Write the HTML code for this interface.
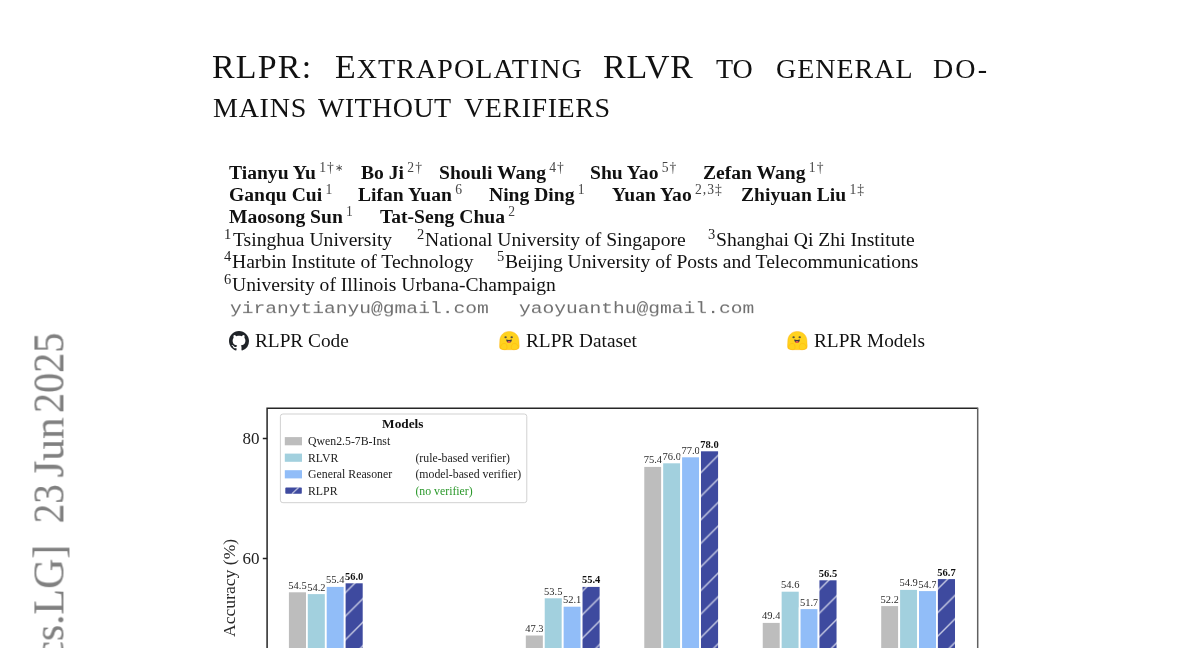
<!DOCTYPE html>
<html><head><meta charset="utf-8"><style>
html,body{margin:0;padding:0;background:#fff;}
body{width:1200px;height:648px;overflow:hidden;position:relative;font-family:"Liberation Serif",serif;color:#111;}
.t{position:absolute;line-height:1;white-space:nowrap;will-change:transform;}
.b{font-weight:bold;}
.m{font-family:"Liberation Mono",monospace;color:#707070;line-height:1;}
.sup{font-weight:normal;vertical-align:7.5px;color:#444;letter-spacing:1.0px;line-height:0;}
.ast{font-size:10px;vertical-align:1.5px;}
.sup2{vertical-align:6.7px;color:#333;line-height:0;}
.ic{position:absolute;}
.st{color:#808080;-webkit-text-stroke:0.12px #808080;}
.ch{position:absolute;left:0;top:0;font-family:"Liberation Serif",serif;will-change:transform;}
</style></head><body>
<div class="t" style="left:212.30px;top:50.21px;font-size:33.9px;letter-spacing:1.24px">RLPR:</div>
<div class="t" style="left:335.00px;top:50.21px;font-size:33.9px;letter-spacing:1.08px">E<span style="font-size:28.0px">XTRAPOLATING</span></div>
<div class="t" style="left:603.20px;top:50.21px;font-size:33.9px;letter-spacing:0.9px">RLVR</div>
<div class="t" style="left:716.00px;top:50.21px;font-size:33.9px;letter-spacing:0.0px"><span style="font-size:28.0px">TO</span></div>
<div class="t" style="left:776.40px;top:50.21px;font-size:33.9px;letter-spacing:0.98px"><span style="font-size:28.0px">GENERAL</span></div>
<div class="t" style="left:932.50px;top:50.21px;font-size:33.9px;letter-spacing:2.1px"><span style="font-size:28.0px">DO-</span></div>
<div class="t" style="left:212.75px;top:93.85px;font-size:28.0px;letter-spacing:0.75px">MAINS</div>
<div class="t" style="left:317.75px;top:93.85px;font-size:28.0px;letter-spacing:0.42px">WITHOUT</div>
<div class="t" style="left:463.50px;top:93.85px;font-size:28.0px;letter-spacing:0.55px">VERIFIERS</div>
<div class="t b" style="left:229px;top:162.59px;font-size:19.6px">Tianyu Yu<span class="sup" style="font-size:13.6px;margin-left:1.2px">&#8202;1&dagger;<span class="ast">&lowast;</span></span></div>
<div class="t b" style="left:360.6px;top:162.59px;font-size:19.6px">Bo Ji<span class="sup" style="font-size:13.6px;margin-left:1.2px">&#8202;2&dagger;</span></div>
<div class="t b" style="left:439.2px;top:162.59px;font-size:19.6px">Shouli Wang<span class="sup" style="font-size:13.6px;margin-left:1.2px">&#8202;4&dagger;</span></div>
<div class="t b" style="left:589.7px;top:162.59px;font-size:19.6px">Shu Yao<span class="sup" style="font-size:13.6px;margin-left:1.2px">&#8202;5&dagger;</span></div>
<div class="t b" style="left:702.8px;top:162.59px;font-size:19.6px">Zefan Wang<span class="sup" style="font-size:13.6px;margin-left:1.2px">&#8202;1&dagger;</span></div>
<div class="t b" style="left:229px;top:184.59px;font-size:19.6px">Ganqu Cui<span class="sup" style="font-size:13.6px;margin-left:1.2px">&#8202;1</span></div>
<div class="t b" style="left:358.4px;top:184.59px;font-size:19.6px">Lifan Yuan<span class="sup" style="font-size:13.6px;margin-left:1.2px">&#8202;6</span></div>
<div class="t b" style="left:489px;top:184.59px;font-size:19.6px">Ning Ding<span class="sup" style="font-size:13.6px;margin-left:1.2px">&#8202;1</span></div>
<div class="t b" style="left:612.1px;top:184.59px;font-size:19.6px">Yuan Yao<span class="sup" style="font-size:13.6px;margin-left:1.2px">&#8202;2,3&Dagger;</span></div>
<div class="t b" style="left:740.7px;top:184.59px;font-size:19.6px">Zhiyuan Liu<span class="sup" style="font-size:13.6px;margin-left:1.2px">&#8202;1&Dagger;</span></div>
<div class="t b" style="left:229px;top:206.59px;font-size:19.6px">Maosong Sun<span class="sup" style="font-size:13.6px;margin-left:1.2px">&#8202;1</span></div>
<div class="t b" style="left:380px;top:206.59px;font-size:19.6px">Tat-Seng Chua<span class="sup" style="font-size:13.6px;margin-left:1.2px">&#8202;2</span></div>
<div class="t" style="left:224.00px;top:227.06px;font-size:14.5px;color:#222">1</div>
<div class="t" style="left:232.80px;top:229.89px;font-size:19.6px">Tsinghua University</div>
<div class="t" style="left:417.30px;top:227.06px;font-size:14.5px;color:#222">2</div>
<div class="t" style="left:424.50px;top:229.89px;font-size:19.6px">National University of Singapore</div>
<div class="t" style="left:708.00px;top:227.06px;font-size:14.5px;color:#222">3</div>
<div class="t" style="left:716.20px;top:229.89px;font-size:19.6px">Shanghai Qi Zhi Institute</div>
<div class="t" style="left:223.80px;top:249.06px;font-size:14.5px;color:#222">4</div>
<div class="t" style="left:231.80px;top:251.89px;font-size:19.6px">Harbin Institute of Technology</div>
<div class="t" style="left:496.80px;top:249.06px;font-size:14.5px;color:#222">5</div>
<div class="t" style="left:505.00px;top:251.89px;font-size:19.6px">Beijing University of Posts and Telecommunications</div>
<div class="t" style="left:224.20px;top:272.06px;font-size:14.5px;color:#222">6</div>
<div class="t" style="left:232.20px;top:274.88px;font-size:19.6px">University of Illinois Urbana-Champaign</div>
<div class="t m" style="left:229.6px;top:299.17px;font-size:19.6px;transform-origin:0 15px;transform:scaleY(0.8)">yiranytianyu@gmail.com</div>
<div class="t m" style="left:518.8px;top:299.17px;font-size:19.6px;transform-origin:0 15px;transform:scaleY(0.8)">yaoyuanthu@gmail.com</div>
<svg class="ic" style="left:229px;top:330.7px" width="20" height="20" viewBox="0 0 16 16"><path fill="#1f2328" d="M8 0C3.58 0 0 3.58 0 8c0 3.54 2.29 6.53 5.47 7.59.4.07.55-.17.55-.38 0-.19-.01-.82-.01-1.49-2.01.37-2.53-.49-2.69-.94-.09-.23-.48-.94-.82-1.13-.28-.15-.68-.52-.01-.53.63-.01 1.08.58 1.23.82.72 1.21 1.87.87 2.33.66.07-.52.28-.87.51-1.07-1.78-.2-3.64-.89-3.64-3.95 0-.87.31-1.59.82-2.15-.08-.2-.36-1.02.08-2.12 0 0 .67-.21 2.2.82.64-.18 1.32-.27 2-.27.68 0 1.36.09 2 .27 1.53-1.04 2.2-.82 2.2-.82.44 1.1.16 1.92.08 2.12.51.56.82 1.27.82 2.15 0 3.07-1.87 3.75-3.65 3.95.29.25.54.73.54 1.48 0 1.07-.01 1.93-.01 2.2 0 .21.15.46.55.38A8.013 8.013 0 0016 8c0-4.42-3.58-8-8-8z"/></svg>
<svg class="ic" style="left:498.7px;top:330.5px" width="21" height="20" viewBox="0 0 21 20">
<path d="M10.3 0.4C15.8 0.4 19.9 4.4 19.9 9.8C19.9 12.8 20.6 15.8 19.8 17.2C19 18.6 16.4 18.7 10.3 18.7C4.2 18.7 1.6 18.6 0.9 17.2C0.2 15.8 0.8 12.8 0.8 9.8C0.8 4.4 4.8 0.4 10.3 0.4Z" fill="#FFD21E" stroke="#FFAC03" stroke-width=".7" stroke-opacity=".55"/>
<ellipse cx="6.6" cy="6.2" rx="1.2" ry=".95" fill="#3A3B45" opacity=".85"/><ellipse cx="12.7" cy="6.2" rx="1.2" ry=".95" fill="#3A3B45" opacity=".85"/>
<path d="M7.2 8.6Q10 9.4 12.9 8.6Q12.6 11.9 10 11.9Q7.5 11.9 7.2 8.6Z" fill="#3A3B45"/><ellipse cx="10" cy="10.9" rx="1.7" ry="1" fill="#EF5E4E"/>
<path d="M1.6 15.5C2.2 12.8 4.8 12 6.4 12.6C7.8 13.2 8.2 15.5 8 17.2C7.9 18.3 6.8 18.7 5.5 18.7C3 18.7 1.2 17.6 1.6 15.5Z" fill="#FFD21E" stroke="#FFAC03" stroke-width=".6" stroke-opacity=".6"/>
<path d="M19.2 15.5C18.6 12.8 16 12 14.2 12.6C12.6 13.2 12 15.5 12.3 17.2C12.5 18.3 13.8 18.7 15.2 18.7C17.8 18.7 19.6 17.6 19.2 15.5Z" fill="#FFD21E" stroke="#FFAC03" stroke-width=".6" stroke-opacity=".6"/>
</svg>
<svg class="ic" style="left:786.9px;top:330.5px" width="21" height="20" viewBox="0 0 21 20">
<path d="M10.3 0.4C15.8 0.4 19.9 4.4 19.9 9.8C19.9 12.8 20.6 15.8 19.8 17.2C19 18.6 16.4 18.7 10.3 18.7C4.2 18.7 1.6 18.6 0.9 17.2C0.2 15.8 0.8 12.8 0.8 9.8C0.8 4.4 4.8 0.4 10.3 0.4Z" fill="#FFD21E" stroke="#FFAC03" stroke-width=".7" stroke-opacity=".55"/>
<ellipse cx="6.6" cy="6.2" rx="1.2" ry=".95" fill="#3A3B45" opacity=".85"/><ellipse cx="12.7" cy="6.2" rx="1.2" ry=".95" fill="#3A3B45" opacity=".85"/>
<path d="M7.2 8.6Q10 9.4 12.9 8.6Q12.6 11.9 10 11.9Q7.5 11.9 7.2 8.6Z" fill="#3A3B45"/><ellipse cx="10" cy="10.9" rx="1.7" ry="1" fill="#EF5E4E"/>
<path d="M1.6 15.5C2.2 12.8 4.8 12 6.4 12.6C7.8 13.2 8.2 15.5 8 17.2C7.9 18.3 6.8 18.7 5.5 18.7C3 18.7 1.2 17.6 1.6 15.5Z" fill="#FFD21E" stroke="#FFAC03" stroke-width=".6" stroke-opacity=".6"/>
<path d="M19.2 15.5C18.6 12.8 16 12 14.2 12.6C12.6 13.2 12 15.5 12.3 17.2C12.5 18.3 13.8 18.7 15.2 18.7C17.8 18.7 19.6 17.6 19.2 15.5Z" fill="#FFD21E" stroke="#FFAC03" stroke-width=".6" stroke-opacity=".6"/>
</svg>
<div class="t" style="left:255.00px;top:331.14px;font-size:19.3px;">RLPR Code</div>
<div class="t" style="left:525.70px;top:331.14px;font-size:19.3px;">RLPR Dataset</div>
<div class="t" style="left:814.00px;top:331.14px;font-size:19.3px;">RLPR Models</div>
<div class="t st" style="left:0;top:0;font-size:44px;transform-origin:0 0;transform:translate(27.45px,413.03px) rotate(-90deg) scaleX(0.913)">2025</div>
<div class="t st" style="left:0;top:0;font-size:44px;transform-origin:0 0;transform:translate(27.45px,477.48px) rotate(-90deg) scaleX(0.985)">Jun</div>
<div class="t st" style="left:0;top:0;font-size:44px;transform-origin:0 0;transform:translate(27.45px,523.25px) rotate(-90deg) scaleX(0.885)">23</div>
<div class="t st" style="left:0;top:0;font-size:44px;transform-origin:0 0;transform:translate(27.45px,673.65px) rotate(-90deg) scaleX(0.95)">[cs.LG]</div>
<div class="t st" style="left:0;top:0;font-size:44px;transform-origin:0 0;transform:translate(27.45px,1080.00px) rotate(-90deg) scaleX(0.95)">arXiv:2506.18254v1</div>
<svg class="ch" width="1200" height="648" viewBox="0 0 1200 648">
<defs><pattern id="h" patternUnits="userSpaceOnUse" width="23.55" height="23.55" x="19.6" y="0"><path d="M0 23.55L23.55 0M-11.775 11.775L11.775 -11.775M11.775 35.325L35.325 11.775" stroke="#fff" stroke-opacity=".7" stroke-width="1.4"/></pattern></defs>
<rect x="288.00" y="591.40" width="18.90" height="108.60" fill="#bdbdbd"/>
<rect x="288.00" y="591.40" width="18.90" height="108.60" fill="none" stroke="#fff" stroke-width="1.8"/>
<text x="297.45" y="588.80" font-size="10.5" font-weight="normal" fill="#2a2a2a" text-anchor="middle">54.5</text>
<rect x="306.90" y="593.20" width="18.90" height="106.80" fill="#a2d0de"/>
<rect x="306.90" y="593.20" width="18.90" height="106.80" fill="none" stroke="#fff" stroke-width="1.8"/>
<text x="316.35" y="590.60" font-size="10.5" font-weight="normal" fill="#2a2a2a" text-anchor="middle">54.2</text>
<rect x="325.80" y="586.00" width="18.90" height="114.00" fill="#91bdf8"/>
<rect x="325.80" y="586.00" width="18.90" height="114.00" fill="none" stroke="#fff" stroke-width="1.8"/>
<text x="335.25" y="583.40" font-size="10.5" font-weight="normal" fill="#2a2a2a" text-anchor="middle">55.4</text>
<rect x="344.70" y="582.40" width="18.90" height="117.60" fill="#3e4a9f"/>
<rect x="344.70" y="582.40" width="18.90" height="117.60" fill="url(#h)"/>
<rect x="344.70" y="582.40" width="18.90" height="117.60" fill="none" stroke="#fff" stroke-width="1.8"/>
<text x="354.15" y="579.80" font-size="10.5" font-weight="bold" fill="#111" text-anchor="middle">56.0</text>
<rect x="406.46" y="678.40" width="18.90" height="21.60" fill="#bdbdbd"/>
<rect x="406.46" y="678.40" width="18.90" height="21.60" fill="none" stroke="#fff" stroke-width="1.8"/>
<rect x="425.36" y="672.40" width="18.90" height="27.60" fill="#a2d0de"/>
<rect x="425.36" y="672.40" width="18.90" height="27.60" fill="none" stroke="#fff" stroke-width="1.8"/>
<rect x="444.26" y="666.40" width="18.90" height="33.60" fill="#91bdf8"/>
<rect x="444.26" y="666.40" width="18.90" height="33.60" fill="none" stroke="#fff" stroke-width="1.8"/>
<rect x="463.16" y="660.40" width="18.90" height="39.60" fill="#3e4a9f"/>
<rect x="463.16" y="660.40" width="18.90" height="39.60" fill="url(#h)"/>
<rect x="463.16" y="660.40" width="18.90" height="39.60" fill="none" stroke="#fff" stroke-width="1.8"/>
<rect x="524.92" y="634.60" width="18.90" height="65.40" fill="#bdbdbd"/>
<rect x="524.92" y="634.60" width="18.90" height="65.40" fill="none" stroke="#fff" stroke-width="1.8"/>
<text x="534.37" y="632.00" font-size="10.5" font-weight="normal" fill="#2a2a2a" text-anchor="middle">47.3</text>
<rect x="543.82" y="597.40" width="18.90" height="102.60" fill="#a2d0de"/>
<rect x="543.82" y="597.40" width="18.90" height="102.60" fill="none" stroke="#fff" stroke-width="1.8"/>
<text x="553.27" y="594.80" font-size="10.5" font-weight="normal" fill="#2a2a2a" text-anchor="middle">53.5</text>
<rect x="562.72" y="605.80" width="18.90" height="94.20" fill="#91bdf8"/>
<rect x="562.72" y="605.80" width="18.90" height="94.20" fill="none" stroke="#fff" stroke-width="1.8"/>
<text x="572.17" y="603.20" font-size="10.5" font-weight="normal" fill="#2a2a2a" text-anchor="middle">52.1</text>
<rect x="581.62" y="586.00" width="18.90" height="114.00" fill="#3e4a9f"/>
<rect x="581.62" y="586.00" width="18.90" height="114.00" fill="url(#h)"/>
<rect x="581.62" y="586.00" width="18.90" height="114.00" fill="none" stroke="#fff" stroke-width="1.8"/>
<text x="591.07" y="583.40" font-size="10.5" font-weight="bold" fill="#111" text-anchor="middle">55.4</text>
<rect x="643.38" y="466.00" width="18.90" height="234.00" fill="#bdbdbd"/>
<rect x="643.38" y="466.00" width="18.90" height="234.00" fill="none" stroke="#fff" stroke-width="1.8"/>
<text x="652.83" y="463.40" font-size="10.5" font-weight="normal" fill="#2a2a2a" text-anchor="middle">75.4</text>
<rect x="662.28" y="462.40" width="18.90" height="237.60" fill="#a2d0de"/>
<rect x="662.28" y="462.40" width="18.90" height="237.60" fill="none" stroke="#fff" stroke-width="1.8"/>
<text x="671.73" y="459.80" font-size="10.5" font-weight="normal" fill="#2a2a2a" text-anchor="middle">76.0</text>
<rect x="681.18" y="456.40" width="18.90" height="243.60" fill="#91bdf8"/>
<rect x="681.18" y="456.40" width="18.90" height="243.60" fill="none" stroke="#fff" stroke-width="1.8"/>
<text x="690.63" y="453.80" font-size="10.5" font-weight="normal" fill="#2a2a2a" text-anchor="middle">77.0</text>
<rect x="700.08" y="450.40" width="18.90" height="249.60" fill="#3e4a9f"/>
<rect x="700.08" y="450.40" width="18.90" height="249.60" fill="url(#h)"/>
<rect x="700.08" y="450.40" width="18.90" height="249.60" fill="none" stroke="#fff" stroke-width="1.8"/>
<text x="709.53" y="447.80" font-size="10.5" font-weight="bold" fill="#111" text-anchor="middle">78.0</text>
<rect x="761.84" y="622.00" width="18.90" height="78.00" fill="#bdbdbd"/>
<rect x="761.84" y="622.00" width="18.90" height="78.00" fill="none" stroke="#fff" stroke-width="1.8"/>
<text x="771.29" y="619.40" font-size="10.5" font-weight="normal" fill="#2a2a2a" text-anchor="middle">49.4</text>
<rect x="780.74" y="590.80" width="18.90" height="109.20" fill="#a2d0de"/>
<rect x="780.74" y="590.80" width="18.90" height="109.20" fill="none" stroke="#fff" stroke-width="1.8"/>
<text x="790.19" y="588.20" font-size="10.5" font-weight="normal" fill="#2a2a2a" text-anchor="middle">54.6</text>
<rect x="799.64" y="608.20" width="18.90" height="91.80" fill="#91bdf8"/>
<rect x="799.64" y="608.20" width="18.90" height="91.80" fill="none" stroke="#fff" stroke-width="1.8"/>
<text x="809.09" y="605.60" font-size="10.5" font-weight="normal" fill="#2a2a2a" text-anchor="middle">51.7</text>
<rect x="818.54" y="579.40" width="18.90" height="120.60" fill="#3e4a9f"/>
<rect x="818.54" y="579.40" width="18.90" height="120.60" fill="url(#h)"/>
<rect x="818.54" y="579.40" width="18.90" height="120.60" fill="none" stroke="#fff" stroke-width="1.8"/>
<text x="827.99" y="576.80" font-size="10.5" font-weight="bold" fill="#111" text-anchor="middle">56.5</text>
<rect x="880.30" y="605.20" width="18.90" height="94.80" fill="#bdbdbd"/>
<rect x="880.30" y="605.20" width="18.90" height="94.80" fill="none" stroke="#fff" stroke-width="1.8"/>
<text x="889.75" y="602.60" font-size="10.5" font-weight="normal" fill="#2a2a2a" text-anchor="middle">52.2</text>
<rect x="899.20" y="589.00" width="18.90" height="111.00" fill="#a2d0de"/>
<rect x="899.20" y="589.00" width="18.90" height="111.00" fill="none" stroke="#fff" stroke-width="1.8"/>
<text x="908.65" y="586.40" font-size="10.5" font-weight="normal" fill="#2a2a2a" text-anchor="middle">54.9</text>
<rect x="918.10" y="590.20" width="18.90" height="109.80" fill="#91bdf8"/>
<rect x="918.10" y="590.20" width="18.90" height="109.80" fill="none" stroke="#fff" stroke-width="1.8"/>
<text x="927.55" y="587.60" font-size="10.5" font-weight="normal" fill="#2a2a2a" text-anchor="middle">54.7</text>
<rect x="937.00" y="578.20" width="18.90" height="121.80" fill="#3e4a9f"/>
<rect x="937.00" y="578.20" width="18.90" height="121.80" fill="url(#h)"/>
<rect x="937.00" y="578.20" width="18.90" height="121.80" fill="none" stroke="#fff" stroke-width="1.8"/>
<text x="946.45" y="575.60" font-size="10.5" font-weight="bold" fill="#111" text-anchor="middle">56.7</text>
<path d="M267.1 648V408.3H977.7" fill="none" stroke="#262626" stroke-width="1.5"/>
<path d="M977.7 407.6V648" fill="none" stroke="#606060" stroke-width="1.5"/>
<path d="M262.8 438.5H267.2M262.8 558.5H267.2" stroke="#222" stroke-width="1.3"/>
<text x="259.6" y="444.2" font-size="17" fill="#222" text-anchor="end">80</text>
<text x="259.6" y="564.2" font-size="17" fill="#222" text-anchor="end">60</text>
<text transform="translate(235.0 587.9) rotate(-90)" font-size="17.6" fill="#2a2a2a" text-anchor="middle">Accuracy (%)</text>
<rect x="280.4" y="414" width="246.4" height="88.7" rx="2.5" fill="#fff" fill-opacity=".8" stroke="#cccccc" stroke-width=".9"/>
<text x="402.8" y="428.2" font-size="13.3" font-weight="bold" fill="#111" text-anchor="middle">Models</text>
<rect x="284.8" y="437.10" width="17.2" height="8.2" fill="#bdbdbd"/>
<text x="308" y="445.3" font-size="11.8" fill="#222">Qwen2.5-7B-Inst</text>
<rect x="284.8" y="453.60" width="17.2" height="8.2" fill="#a2d0de"/>
<text x="308" y="461.8" font-size="11.8" fill="#222">RLVR</text>
<text x="415.4" y="461.8" font-size="11.8" fill="#222">(rule-based verifier)</text>
<rect x="284.8" y="470.20" width="17.2" height="8.2" fill="#91bdf8"/>
<text x="308" y="478.4" font-size="11.8" fill="#222">General Reasoner</text>
<text x="415.4" y="478.4" font-size="11.8" fill="#222">(model-based verifier)</text>
<rect x="285.3" y="487.60" width="16.5" height="6.2" rx=".8" fill="#3e4a9f"/>
<path d="M292.0 493.80L298.6 487.60" stroke="#fff" stroke-opacity=".6" stroke-width="1.4"/>
<text x="308" y="494.8" font-size="11.8" fill="#222">RLPR</text>
<text x="415.4" y="494.8" font-size="11.8" fill="#2a982a">(no verifier)</text>
</svg>

</body></html>
